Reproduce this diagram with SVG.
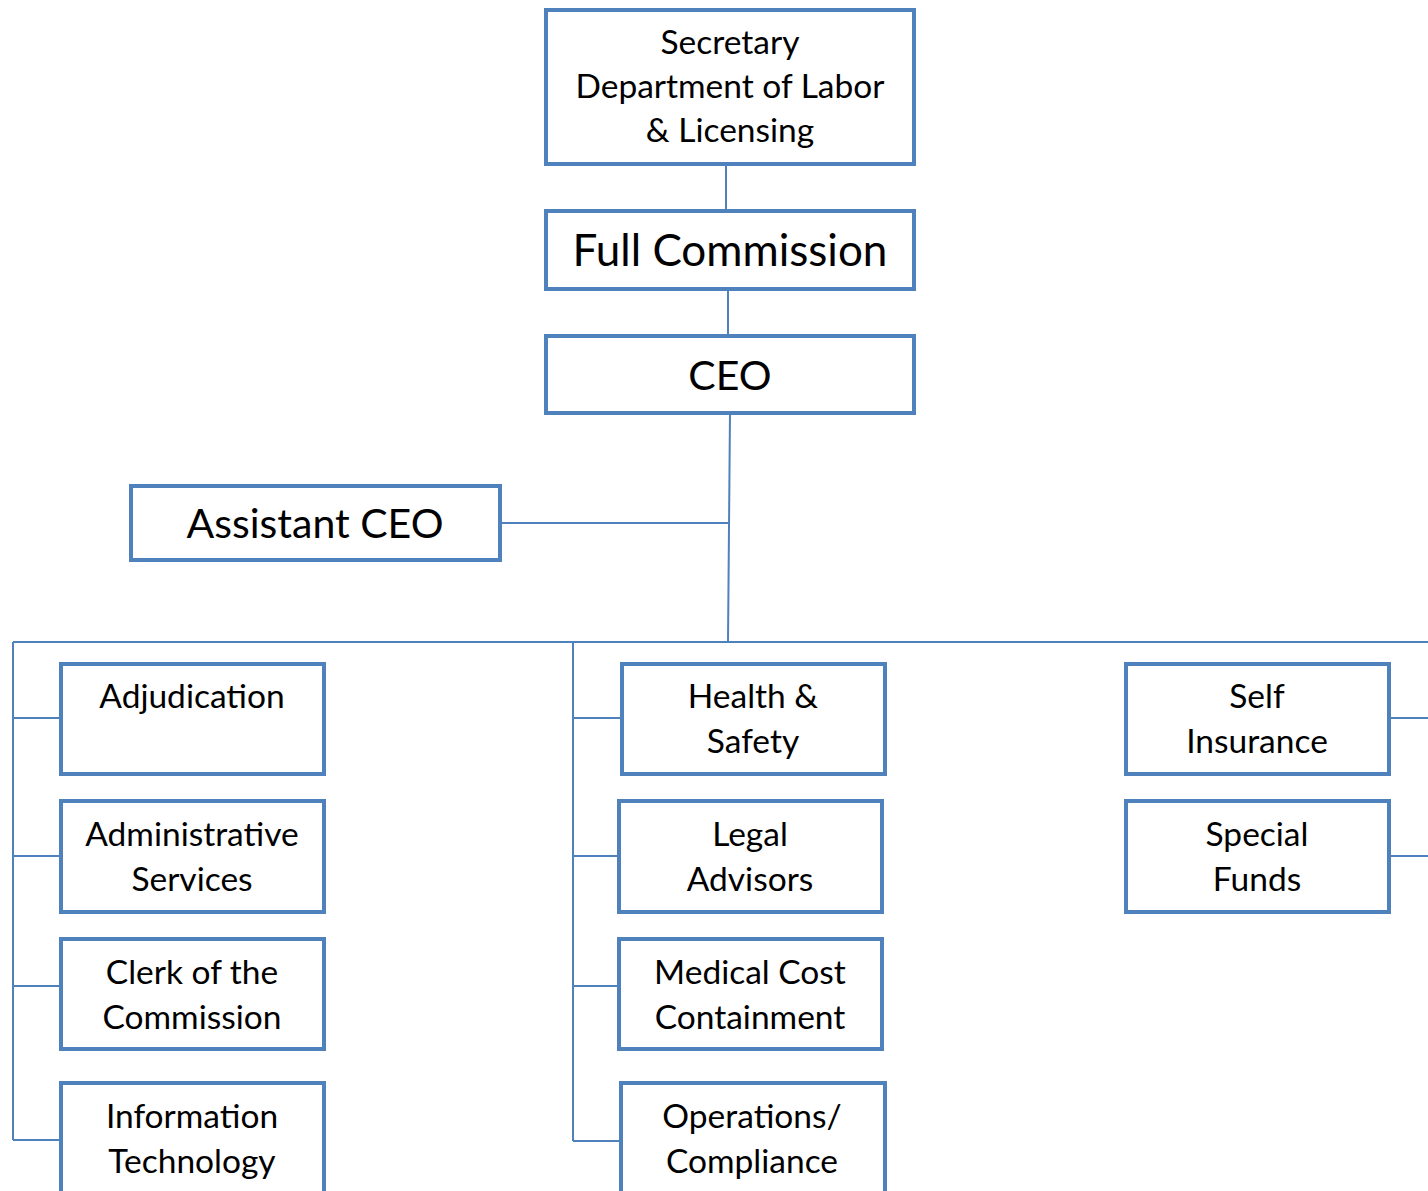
<svg xmlns="http://www.w3.org/2000/svg" width="1428" height="1191" viewBox="0 0 1428 1191">
<style>
.box{fill:#fff;stroke:#4f81bd;stroke-width:4}
.ln{fill:none;stroke:#4f81bd;stroke-width:2}
text{font-family:Lato,"Liberation Sans",sans-serif;fill:#000;text-anchor:middle}
.s{font-size:33.5px}
.b{font-size:41px}
.fc{font-size:44px}
</style>
<rect width="1428" height="1191" fill="#fff"/>
<g id="connectors">
<path class="ln" d="M726 164V211"/>
<path class="ln" d="M728 289V336"/>
<path class="ln" d="M730 413L728 642"/>
<path class="ln" d="M500 523H729"/>
<path class="ln" d="M13 642H1428"/>
<path class="ln" d="M13 642V1140M13 718H61M13 856H61M13 986H61M13 1140H61"/>
<path class="ln" d="M573 642V1141M573 718H622M573 856H619M573 986H619M573 1141H621"/>
<path class="ln" d="M1389 718H1428M1389 856H1428"/>
</g>
<g id="secretary"><rect class="box" x="546" y="10" width="368" height="154"/>
<text class="s" x="730" y="54">Secretary</text><text class="s" x="730" y="98">Department of Labor</text><text class="s" x="730" y="142">&amp; Licensing</text></g>
<g id="full-commission"><rect class="box" x="546" y="211" width="368" height="78"/><text class="fc" x="730" y="266">Full Commission</text></g>
<g id="ceo"><rect class="box" x="546" y="336" width="368" height="77"/><text class="b" x="730" y="390">CEO</text></g>
<g id="assistant-ceo"><rect class="box" x="131" y="486" width="369" height="74"/><text class="b" x="315" y="538">Assistant CEO</text></g>
<g id="adjudication"><rect class="box" x="61" y="664" width="263" height="110"/><text class="s" x="192" y="708">Adjudication</text></g>
<g id="administrative-services"><rect class="box" x="61" y="801" width="263" height="111"/><text class="s" x="192" y="846">Administrative</text><text class="s" x="192" y="891">Services</text></g>
<g id="clerk"><rect class="box" x="61" y="939" width="263" height="110"/><text class="s" x="192" y="984">Clerk of the</text><text class="s" x="192" y="1029">Commission</text></g>
<g id="it"><rect class="box" x="61" y="1083" width="263" height="112"/><text class="s" x="192" y="1128">Information</text><text class="s" x="192" y="1173">Technology</text></g>
<g id="health-safety"><rect class="box" x="622" y="664" width="263" height="110"/><text class="s" x="753" y="708">Health &amp;</text><text class="s" x="753" y="753">Safety</text></g>
<g id="legal"><rect class="box" x="619" y="801" width="263" height="111"/><text class="s" x="750" y="846">Legal</text><text class="s" x="750" y="891">Advisors</text></g>
<g id="medical"><rect class="box" x="619" y="939" width="263" height="110"/><text class="s" x="750" y="984">Medical Cost</text><text class="s" x="750" y="1029">Containment</text></g>
<g id="operations"><rect class="box" x="621" y="1083" width="264" height="112"/><text class="s" x="752" y="1128">Operations/</text><text class="s" x="752" y="1173">Compliance</text></g>
<g id="self-insurance"><rect class="box" x="1126" y="664" width="263" height="110"/><text class="s" x="1257" y="708">Self</text><text class="s" x="1257" y="753">Insurance</text></g>
<g id="special-funds"><rect class="box" x="1126" y="801" width="263" height="111"/><text class="s" x="1257" y="846">Special</text><text class="s" x="1257" y="891">Funds</text></g>
</svg>
